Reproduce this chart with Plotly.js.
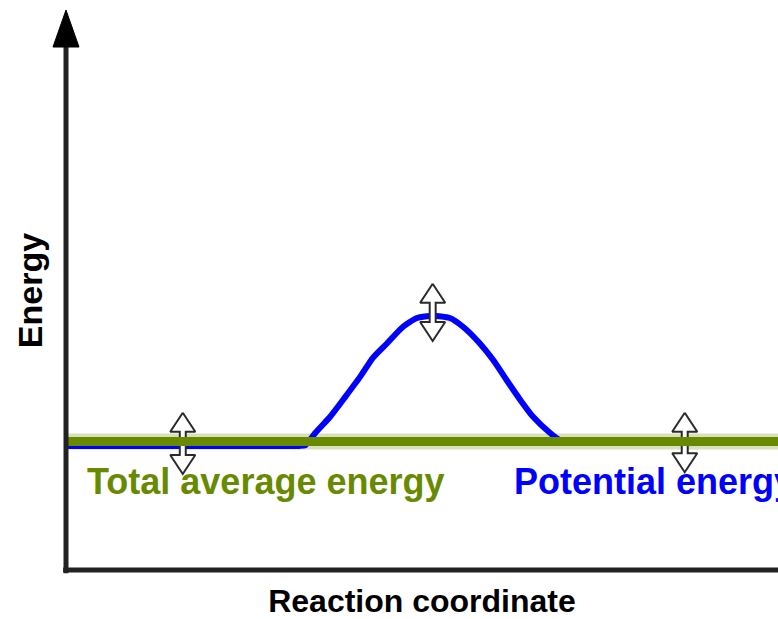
<!DOCTYPE html>
<html>
<head>
<meta charset="utf-8">
<script src="https://cdn.plot.ly/plotly-3.0.1.min.js"></script>
<style>html,body{margin:0;padding:0;background:#fff;}#chart{width:778px;height:619px;}</style>
</head>
<body>
<div id="chart"></div>
<script>
// Reaction coordinate (0-100) and energy (0-100) in arbitrary units
var potentialX = [0, 31.5, 32.8, 33.6, 34.3, 35.0, 37.1, 39.2, 41.3, 43.1, 45.1, 47.3, 49.3, 51.5, 53.9, 55.8, 58.1, 60.0, 61.9, 63.8, 65.6, 68.0, 69.4, 70.4, 71.5, 100];
var potentialY = [22.3, 22.3, 22.3, 22.4, 23.4, 24.6, 27.5, 31.0, 34.6, 38.0, 40.6, 43.5, 45.1, 45.5, 45.1, 43.5, 40.6, 37.6, 34.0, 30.5, 27.5, 24.6, 23.3, 23.2, 23.2, 23.2];
var totalX = [0, 100];
var totalY = [23.1, 23.1];
// double-headed fluctuation arrows: centre x, top tip, bottom tip
var arrowX = [16.4, 51.5, 86.9];
var arrowTop = [28.2, 51.2, 28.2];
var arrowBottom = [17.3, 41.0, 17.6];
var labels = ["Total average energy", "Potential energy"];
var axisTitles = {x: "Reaction coordinate", y: "Energy"};

var GREEN = "#678a00", BLUE = "#0000ff";
var HW = 1.76, HH = 3.39, SW = 0.42; // arrow head half-width, head height, shaft half-width (data units)

var traces = [];
traces.push({x: totalX, y: totalY, mode: "lines", line: {color: "#d8e0bc", width: 16}, hoverinfo: "skip", showlegend: false});
traces.push({x: potentialX, y: potentialY, mode: "lines", line: {color: BLUE, width: 6, shape: "spline", smoothing: 0.6}, hoverinfo: "skip", showlegend: false, name: "Potential energy"});
for (var i = 0; i < arrowX.length; i++) {
  var c = arrowX[i], t = arrowTop[i], b = arrowBottom[i];
  traces.push({
    x: [c, c + HW, c + SW, c + SW, c + HW, c, c - HW, c - SW, c - SW, c - HW, c],
    y: [t, t - HH, t - HH, b + HH, b + HH, b, b + HH, b + HH, t - HH, t - HH, t],
    mode: "lines", fill: "toself", fillcolor: "#ffffff",
    line: {color: "#2a2a2a", width: 2}, hoverinfo: "skip", showlegend: false
  });
}
traces.push({x: totalX, y: totalY, mode: "lines", line: {color: GREEN, width: 9}, hoverinfo: "skip", showlegend: false, name: "Total average energy"});

var FONT = "'Liberation Sans', Arial, sans-serif";
var layout = {
  width: 778, height: 619,
  margin: {l: 66, r: 0, t: 10, b: 48},
  paper_bgcolor: "#fff", plot_bgcolor: "#fff",
  showlegend: false,
  xaxis: {range: [0, 100], showgrid: false, zeroline: false, showticklabels: false, showline: false, ticks: "", fixedrange: true,
    title: {text: axisTitles.x, font: {family: FONT, size: 32, color: "#000", weight: "bold"}, standoff: 20}},
  yaxis: {range: [0, 100], showgrid: false, zeroline: false, showticklabels: false, showline: false, ticks: "", fixedrange: true,
    title: {text: axisTitles.y, font: {family: FONT, size: 34, color: "#000", weight: "bold"}, standoff: 12}},
  shapes: [
    {type: "line", xref: "paper", yref: "paper", x0: 0, x1: 0, y0: -0.004, y1: 0.94, line: {color: "#222", width: 5}},
    {type: "line", xref: "paper", yref: "paper", x0: -0.004, x1: 1, y0: 0.002, y1: 0.002, line: {color: "#222", width: 5}},
    {type: "path", xref: "paper", yref: "paper", path: "M -0.0183 0.934 L 0 1.0 L 0.0183 0.934 Z", fillcolor: "#000", line: {color: "#000", width: 1}}
  ],
  annotations: [
    {x: 2.67, y: 16.0, xref: "x", yref: "y", text: labels[0], showarrow: false, xanchor: "left", yanchor: "middle",
      font: {family: FONT, size: 36, color: GREEN, weight: "bold"}},
    {x: 62.6, y: 16.0, xref: "x", yref: "y", text: labels[1], showarrow: false, xanchor: "left", yanchor: "middle",
      font: {family: FONT, size: 36, color: BLUE, weight: "bold"}}
  ]
};
Plotly.newPlot("chart", traces, layout, {staticPlot: true, displayModeBar: false});
</script>
</body>
</html>
